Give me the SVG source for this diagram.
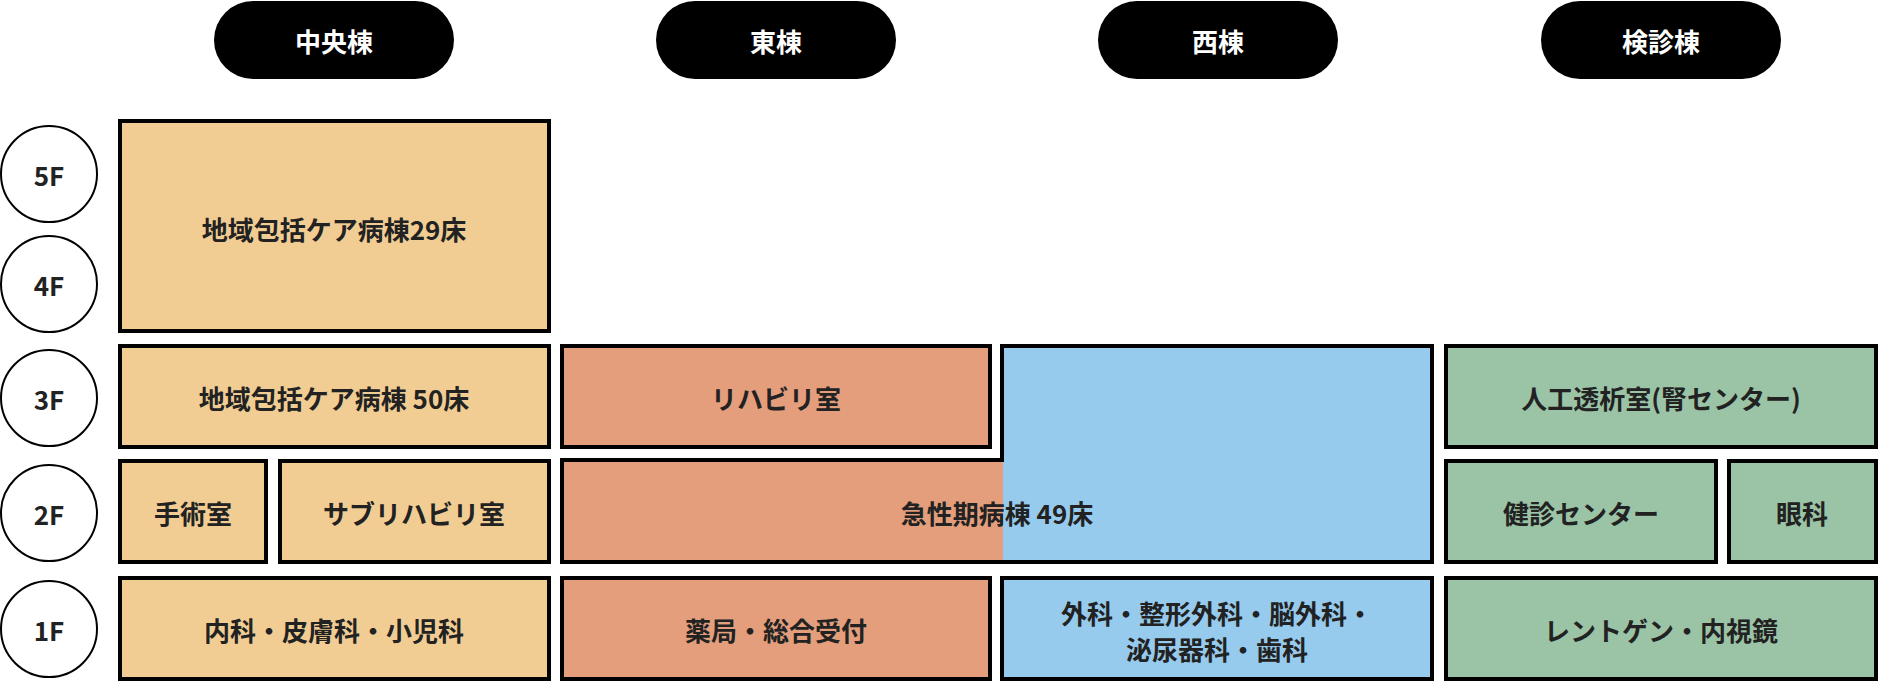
<svg xmlns="http://www.w3.org/2000/svg" width="1878" height="682" viewBox="0 0 1878 682">
<style>
text{font-family:"Noto Sans CJK JP","Noto Sans",sans-serif;font-weight:bold;font-size:26px;fill:#222;text-anchor:middle;dominant-baseline:central}
.h text{fill:#fff}
.b{stroke:#000;stroke-width:4}
.y{fill:#F1CD93}.o{fill:#E49E7C}.bl{fill:#96CBEE}.g{fill:#9BC4A6}
circle{fill:#fff;stroke:#000;stroke-width:2}
</style>
<rect width="1878" height="682" fill="#fff"/>
<g class="h">
<g id="h1"><rect x="214" y="1" width="240" height="78" rx="39" fill="#000"/><text x="334" y="40">中央棟</text></g>
<g id="h2"><rect x="656" y="1" width="240" height="78" rx="39" fill="#000"/><text x="776" y="40">東棟</text></g>
<g id="h3"><rect x="1098" y="1" width="240" height="78" rx="39" fill="#000"/><text x="1218" y="40">西棟</text></g>
<g id="h4"><rect x="1541" y="1" width="240" height="78" rx="39" fill="#000"/><text x="1661" y="40">検診棟</text></g>
</g>
<g id="floors">
<g id="f5"><circle cx="49" cy="174" r="48"/><text x="49" y="174">5F</text></g>
<g id="f4"><circle cx="49" cy="284" r="48"/><text x="49" y="284">4F</text></g>
<g id="f3"><circle cx="49" cy="398" r="48"/><text x="49" y="398">3F</text></g>
<g id="f2"><circle cx="49" cy="513" r="48"/><text x="49" y="513">2F</text></g>
<g id="f1"><circle cx="49" cy="629" r="48"/><text x="49" y="629">1F</text></g>
</g>
<g id="c54"><rect class="b y" x="120" y="121" width="429" height="210"/><text x="334" y="228">地域包括ケア病棟29床</text></g>
<g id="c3"><rect class="b y" x="120" y="346" width="429" height="101"/><text x="334" y="397">地域包括ケア病棟 50床</text></g>
<g id="c2a"><rect class="b y" x="120" y="461" width="146" height="101"/><text x="193" y="512">手術室</text></g>
<g id="c2b"><rect class="b y" x="280" y="461" width="269" height="101"/><text x="414" y="512">サブリハビリ室</text></g>
<g id="c1"><rect class="b y" x="120" y="578" width="429" height="101"/><text x="334" y="629">内科・皮膚科・小児科</text></g>
<g id="e3"><rect class="b o" x="562" y="346" width="428" height="101"/><text x="776" y="397">リハビリ室</text></g>
<g id="acute">
<rect class="o" x="562" y="460" width="442" height="102"/>
<path class="bl" d="M1003 346H1432V562H1003Z"/>
<path d="M562 460H1002V346H1432V562H562Z" fill="none" stroke="#000" stroke-width="4"/>
<text x="997" y="512">急性期病棟 49床</text>
</g>
<g id="e1"><rect class="b o" x="562" y="578" width="428" height="101"/><text x="776" y="629">薬局・総合受付</text></g>
<g id="w1"><rect class="b bl" x="1002" y="578" width="430" height="101"/><text x="1217" y="612">外科・整形外科・脳外科・</text><text x="1217" y="648">泌尿器科・歯科</text></g>
<g id="k3"><rect class="b g" x="1446" y="346" width="430" height="101"/><text x="1661" y="397">人工透析室(腎センター)</text></g>
<g id="k2a"><rect class="b g" x="1446" y="461" width="270" height="101"/><text x="1581" y="512">健診センター</text></g>
<g id="k2b"><rect class="b g" x="1729" y="461" width="147" height="101"/><text x="1802" y="512">眼科</text></g>
<g id="k1"><rect class="b g" x="1446" y="578" width="430" height="101"/><text x="1661" y="629">レントゲン・内視鏡</text></g>
<g id="connectors"/>
</svg>
